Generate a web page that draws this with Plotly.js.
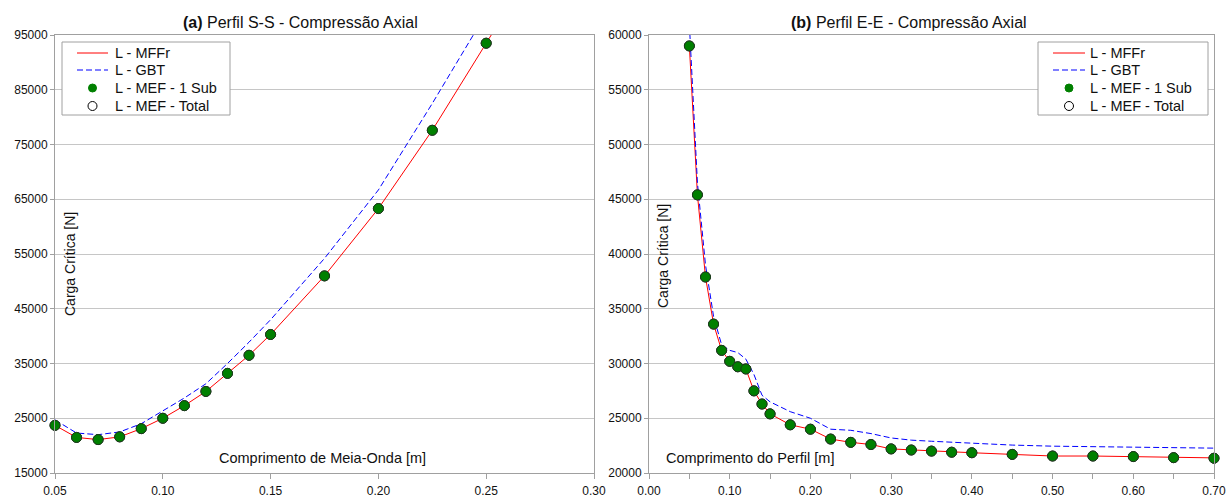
<!DOCTYPE html>
<html>
<head>
<meta charset="utf-8">
<script src="https://cdn.plot.ly/plotly-3.0.1.min.js"></script>
<style>html,body{margin:0;padding:0;background:#fff;}#chart{width:1226px;height:497px;}</style>
</head>
<body>
<div id="chart"></div>
<script>
// ---- (a) Perfil S-S ----
const ssX = [0.05,0.06,0.07,0.08,0.09,0.10,0.11,0.12,0.13,0.14,0.15,0.175,0.20,0.225,0.25];
const ssMEF1 = [23700,21500,21100,21600,23100,25000,27300,29900,33200,36500,40300,51000,63300,77600,93500];
const ssMEFTotal = [23700,21500,21100,21600,23100,25000,27300,29900,33200,36500,40300,51000,63300,77600,93500];
const ssLineX = [0.05,0.06,0.07,0.08,0.09,0.10,0.11,0.12,0.13,0.14,0.15,0.175,0.20,0.225,0.25,0.26];
const ssMFFr = [23700,21500,21100,21600,23100,25000,27300,29900,33200,36500,40300,51000,63300,77600,93500,99900];
const ssGBT = [24700,22300,22000,22500,24000,26300,28700,31300,35000,38900,43000,54200,66700,82500,99000,105500];

// ---- (b) Perfil E-E ----
const eeX = [0.05,0.06,0.07,0.08,0.09,0.10,0.11,0.12,0.13,0.14,0.15,0.175,0.20,0.225,0.25,0.275,0.30,0.325,0.35,0.375,0.40,0.45,0.50,0.55,0.60,0.65,0.70];
const eeMEF1 = [59000,45400,37900,33600,31200,30200,29700,29500,27500,26300,25400,24400,24000,23100,22800,22600,22200,22100,22000,21900,21850,21700,21550,21550,21500,21400,21350];
const eeMEFTotal = [59000,45400,37900,33600,31200,30200,29700,29500,27500,26300,25400,24400,24000,23100,22800,22600,22200,22100,22000,21900,21850,21700,21550,21550,21500,21400,21350];
const eeMFFr = [59000,45400,37900,33600,31200,30200,29700,29500,27500,26300,25400,24400,24000,23100,22800,22600,22200,22100,22000,21900,21850,21700,21550,21550,21500,21400,21380];
const eeGBT = [61000,46500,39000,34300,31700,31200,31000,30400,29000,27100,26500,25600,25000,24000,23900,23600,23200,23000,22900,22800,22750,22550,22450,22400,22350,22280,22270];

const names = ['L - MFFr','L - GBT','L - MEF - 1 Sub','L - MEF - Total'];
const titles = ['<b>(a)</b> Perfil S-S - Compressão Axial','<b>(b)</b> Perfil E-E - Compressão Axial'];
const yTitle = 'Carga Crítica [N]';
const xTitles = ['Comprimento de Meia-Onda [m]','Comprimento do Perfil [m]'];

const FONT = '"Liberation Sans", Arial, sans-serif';
const red = '#ff0000', blue = '#0000ff', green = '#008000', dotEdge = '#1c3d1c';
const DASH = '6px,3px';

function traces(xl, yMFFr, yGBT, xp, yMEF, yTot, xa, ya) {
  return [
    {x: xl, y: yMFFr, xaxis: xa, yaxis: ya, name: names[0], mode: 'lines', line: {color: red, width: 1}},
    {x: xl.slice(0, yGBT.length), y: yGBT, xaxis: xa, yaxis: ya, name: names[1], mode: 'lines',
     line: {color: blue, width: 1, dash: DASH}},
    {x: xp, y: yTot, xaxis: xa, yaxis: ya, name: names[3], mode: 'markers', cliponaxis: false,
     marker: {color: '#ffffff', size: 10, line: {color: '#000000', width: 1}}},
    {x: xp, y: yMEF, xaxis: xa, yaxis: ya, name: names[2], mode: 'markers', cliponaxis: false,
     marker: {color: green, size: 10, line: {color: dotEdge, width: 1}}}
  ];
}

const data = [].concat(
  traces(ssLineX, ssMFFr, ssGBT, ssX, ssMEF1, ssMEFTotal, 'x', 'y'),
  traces(eeX, eeMFFr, eeGBT, eeX, eeMEF1, eeMEFTotal, 'x2', 'y2')
);

const W = 1226, H = 497, ML = 55, MR = 12, MT = 35, MB = 24;
const PW = W - ML - MR, PH = H - MT - MB;
const px = v => (v - ML) / PW;
const py = v => (H - MB - v) / PH;

const gridC = '#c6c6c6', lineC = '#a0a0a0';
const baseX = {showgrid: false, showline: true, linecolor: lineC, mirror: true, ticks: 'outside', ticklen: 5,
  tickcolor: lineC, tickformat: '.2f', zeroline: false, tickfont: {size: 12, color: '#111'}, ticklabelstandoff: 2,
  ticklabeloverflow: 'allow'};
const baseY = {showgrid: true, gridcolor: gridC, showline: true, linecolor: lineC, mirror: true, ticks: 'outside',
  ticklen: 4, tickcolor: lineC, zeroline: false, tickformat: 'd', tickfont: {size: 12, color: '#111'}};

// custom legends (boxes drawn in pixel space, converted to paper coords)
const shapes = [], annotations = [];
function legend(x0, x1, y0, y1, lineX0, lineX1, textX, rows) {
  shapes.push({type: 'rect', xref: 'paper', yref: 'paper', x0: px(x0), x1: px(x1), y0: py(y0), y1: py(y1),
    line: {color: '#a0a0a0', width: 1}, fillcolor: '#ffffff', layer: 'above'});
  const mx = (lineX0 + lineX1) / 2;
  const kinds = ['line', 'dash', 'dot', 'open'];
  rows.forEach((ry, i) => {
    const k = kinds[i];
    if (k === 'line' || k === 'dash') {
      shapes.push({type: 'line', xref: 'paper', yref: 'paper', x0: px(lineX0), x1: px(lineX1), y0: py(ry), y1: py(ry),
        line: {color: k === 'line' ? red : blue, width: 1, dash: k === 'dash' ? DASH : 'solid'}, layer: 'above'});
    } else {
      const rr = k === 'dot' ? 4 : 4.5;
      shapes.push({type: 'circle', xref: 'paper', yref: 'paper', x0: px(mx - rr), x1: px(mx + rr), y0: py(ry + rr), y1: py(ry - rr),
        fillcolor: k === 'dot' ? green : '#ffffff', line: {color: k === 'dot' ? green : '#000000', width: 1}, layer: 'above'});
    }
    annotations.push({text: names[i], x: px(textX), y: py(ry), xref: 'paper', yref: 'paper', xanchor: 'left', yanchor: 'middle',
      showarrow: false, font: {size: 14.5, color: '#111'}});
  });
}
legend(62, 230, 42, 115, 77, 108, 113, [53, 70, 88, 106]);
legend(1038, 1208, 42, 115, 1053, 1085, 1088, [53, 70, 88, 106]);

annotations.push(
  {text: titles[0], x: px(300), y: py(23), xref: 'paper', yref: 'paper', xanchor: 'center', yanchor: 'middle', showarrow: false, font: {size: 16, color: '#111'}},
  {text: titles[1], x: px(909), y: py(23), xref: 'paper', yref: 'paper', xanchor: 'center', yanchor: 'middle', showarrow: false, font: {size: 16, color: '#111'}},
  {text: yTitle, x: px(70), y: py(264), xref: 'paper', yref: 'paper', xanchor: 'center', yanchor: 'middle', showarrow: false, textangle: -90, font: {size: 14, color: '#111'}},
  {text: yTitle, x: px(663), y: py(256), xref: 'paper', yref: 'paper', xanchor: 'center', yanchor: 'middle', showarrow: false, textangle: -90, font: {size: 14, color: '#111'}},
  {text: xTitles[0], x: px(322), y: py(458), xref: 'paper', yref: 'paper', xanchor: 'center', yanchor: 'middle', showarrow: false, font: {size: 14.5, color: '#111'}},
  {text: xTitles[1], x: px(750), y: py(458), xref: 'paper', yref: 'paper', xanchor: 'center', yanchor: 'middle', showarrow: false, font: {size: 14.5, color: '#111'}}
);

const layout = {
  width: W, height: H,
  margin: {l: ML, r: MR, t: MT, b: MB},
  paper_bgcolor: '#ffffff', plot_bgcolor: '#ffffff',
  font: {family: FONT, color: '#111'},
  showlegend: false,
  xaxis: Object.assign({}, baseX, {domain: [0, px(594)], range: [0.05, 0.300001], dtick: 0.05, tick0: 0.05, anchor: 'y'}),
  yaxis: Object.assign({}, baseY, {domain: [0, 1], range: [15000, 95000], dtick: 10000, tick0: 15000, anchor: 'x'}),
  xaxis2: Object.assign({}, baseX, {domain: [px(649), 1], range: [0, 0.700001], dtick: 0.1, tick0: 0, anchor: 'y2',
    minor: {dtick: 0.05, ticks: 'outside', ticklen: 5, tickcolor: lineC}}),
  yaxis2: Object.assign({}, baseY, {domain: [0, 1], range: [20000, 60000], dtick: 5000, tick0: 20000, anchor: 'x2'}),
  shapes: shapes,
  annotations: annotations
};

Plotly.newPlot('chart', data, layout, {displayModeBar: false, staticPlot: true});
</script>
</body>
</html>
